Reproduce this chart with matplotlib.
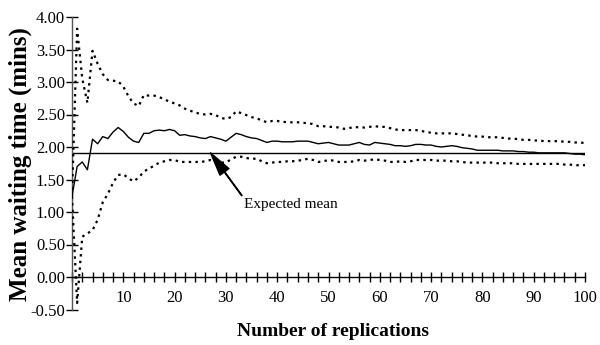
import numpy as np
import matplotlib
matplotlib.use("Agg")
import matplotlib.pyplot as plt
from matplotlib.ticker import FixedLocator, FuncFormatter

plt.rcParams['font.family'] = ['Liberation Serif', 'DejaVu Serif']

# number of replications (x positions)
replications = list(range(0, 101))

# cumulative mean waiting time
mean_wait = [
    1.24, 1.70, 1.77, 1.65, 2.12, 2.05, 2.16, 2.13, 2.23, 2.30,
    2.24, 2.15, 2.09, 2.07, 2.21, 2.21, 2.25, 2.26, 2.25, 2.27,
    2.25, 2.18, 2.19, 2.17, 2.16, 2.14, 2.13, 2.16, 2.14, 2.12,
    2.09, 2.15, 2.21, 2.19, 2.16, 2.14, 2.13, 2.10, 2.07, 2.09,
    2.09, 2.08, 2.08, 2.08, 2.09, 2.09, 2.09, 2.07, 2.05, 2.06,
    2.07, 2.05, 2.03, 2.03, 2.03, 2.05, 2.07, 2.04, 2.03, 2.07,
    2.06, 2.05, 2.04, 2.02, 2.02, 2.01, 2.02, 2.04, 2.04, 2.03,
    2.03, 2.01, 2.00, 2.01, 2.02, 2.01, 1.99, 1.98, 1.97, 1.95,
    1.95, 1.95, 1.95, 1.95, 1.94, 1.94, 1.94, 1.93, 1.93, 1.92,
    1.92, 1.91, 1.91, 1.91, 1.91, 1.91, 1.91, 1.90, 1.89, 1.89,
    1.88,
]

# upper confidence limit
upper_ci = [
    1.24, 3.82, 3.05, 2.68, 3.48, 3.28, 3.12, 3.03, 3.02, 3.01,
    2.93, 2.78, 2.67, 2.63, 2.80, 2.79, 2.79, 2.77, 2.73, 2.70,
    2.67, 2.64, 2.59, 2.56, 2.53, 2.51, 2.50, 2.51, 2.49, 2.45,
    2.43, 2.46, 2.55, 2.52, 2.49, 2.46, 2.44, 2.41, 2.38, 2.40,
    2.40, 2.39, 2.38, 2.38, 2.38, 2.37, 2.37, 2.35, 2.32, 2.32,
    2.31, 2.31, 2.30, 2.28, 2.29, 2.31, 2.30, 2.30, 2.31, 2.32,
    2.31, 2.31, 2.29, 2.27, 2.26, 2.26, 2.26, 2.26, 2.25, 2.23,
    2.22, 2.21, 2.21, 2.21, 2.21, 2.20, 2.19, 2.18, 2.17, 2.16,
    2.16, 2.15, 2.15, 2.15, 2.14, 2.13, 2.13, 2.12, 2.11, 2.11,
    2.10, 2.10, 2.09, 2.09, 2.09, 2.09, 2.08, 2.08, 2.07, 2.07,
    2.06,
]

# lower confidence limit
lower_ci = [
    1.24, -0.40, 0.62, 0.67, 0.72, 0.88, 1.15, 1.28, 1.45, 1.57,
    1.58, 1.52, 1.47, 1.53, 1.62, 1.67, 1.71, 1.76, 1.78, 1.80,
    1.80, 1.77, 1.77, 1.77, 1.77, 1.77, 1.78, 1.80, 1.78, 1.76,
    1.76, 1.81, 1.85, 1.85, 1.83, 1.82, 1.82, 1.78, 1.75, 1.76,
    1.77, 1.77, 1.78, 1.78, 1.79, 1.80, 1.82, 1.80, 1.77, 1.78,
    1.80, 1.79, 1.77, 1.77, 1.77, 1.78, 1.80, 1.79, 1.80, 1.81,
    1.80, 1.79, 1.77, 1.77, 1.78, 1.77, 1.78, 1.80, 1.80, 1.80,
    1.80, 1.79, 1.79, 1.79, 1.78, 1.78, 1.77, 1.76, 1.76, 1.76,
    1.76, 1.76, 1.76, 1.75, 1.75, 1.75, 1.75, 1.74, 1.74, 1.74,
    1.74, 1.74, 1.74, 1.74, 1.74, 1.74, 1.73, 1.73, 1.72, 1.72,
    1.72,
]

expected_mean = 1.91

x_tick_values = list(range(0, 101, 2))
x_label_values = list(range(10, 101, 10))
y_tick_values = [-0.5, 0.0, 0.5, 1.0, 1.5, 2.0, 2.5, 3.0, 3.5, 4.0]

fig = plt.figure(figsize=(6.0, 3.45), dpi=100)
ax = fig.add_axes([72 / 600, 35.5 / 345, 513 / 600, 292.5 / 345])

ax.axhline(expected_mean, color='black', lw=1.0, zorder=2)
ax.plot(replications, mean_wait, color='black', lw=1.0, zorder=3)
dot_style = dict(color='black', lw=1.6, linestyle=(0, (1.1, 1.9)),
                 dash_capstyle='butt', zorder=3)
ax.plot(replications, upper_ci, **dot_style)
ax.plot(replications, lower_ci, **dot_style)

ax.set_xlim(0, 100)
ax.set_ylim(-0.5, 4.0)

ax.spines['top'].set_visible(False)
ax.spines['right'].set_visible(False)
ax.spines['bottom'].set_position(('data', 0))
ax.spines['left'].set_position(('data', 0))
ax.spines['bottom'].set_linewidth(1.0)
ax.spines['left'].set_linewidth(1.0)
ax.spines['left'].set_color('#555555')

ax.xaxis.set_major_locator(FixedLocator(x_tick_values))
ax.xaxis.set_major_formatter(FuncFormatter(
    lambda v, p: f"{int(round(v))}" if int(round(v)) in x_label_values else ""))
ax.yaxis.set_major_locator(FixedLocator(y_tick_values))
ax.yaxis.set_major_formatter(FuncFormatter(lambda v, p: f"{v:.2f}"))

ax.tick_params(axis='x', direction='inout', length=7, width=1.0,
               labelsize=12, pad=6, color='black')
ax.tick_params(axis='y', direction='inout', length=8, width=1.0,
               labelsize=12, pad=1, color='black')

ax.annotate('Expected mean', xy=(27.0, expected_mean), xytext=(33.5, 1.11),
            fontsize=11, va='center', ha='left',
            arrowprops=dict(facecolor='black', edgecolor='black', width=0.4,
                            headwidth=8, headlength=17, shrink=0.0))

fig.text(20 / 600, 1 - 164 / 345, 'Mean waiting time (mins)', rotation=90,
         fontsize=18, fontweight='bold', ha='center', va='center')
fig.text(333 / 600, 1 - 332 / 345, 'Number of replications',
         fontsize=14, fontweight='bold', ha='center', va='center')

fig.savefig('out.png', dpi=100)
